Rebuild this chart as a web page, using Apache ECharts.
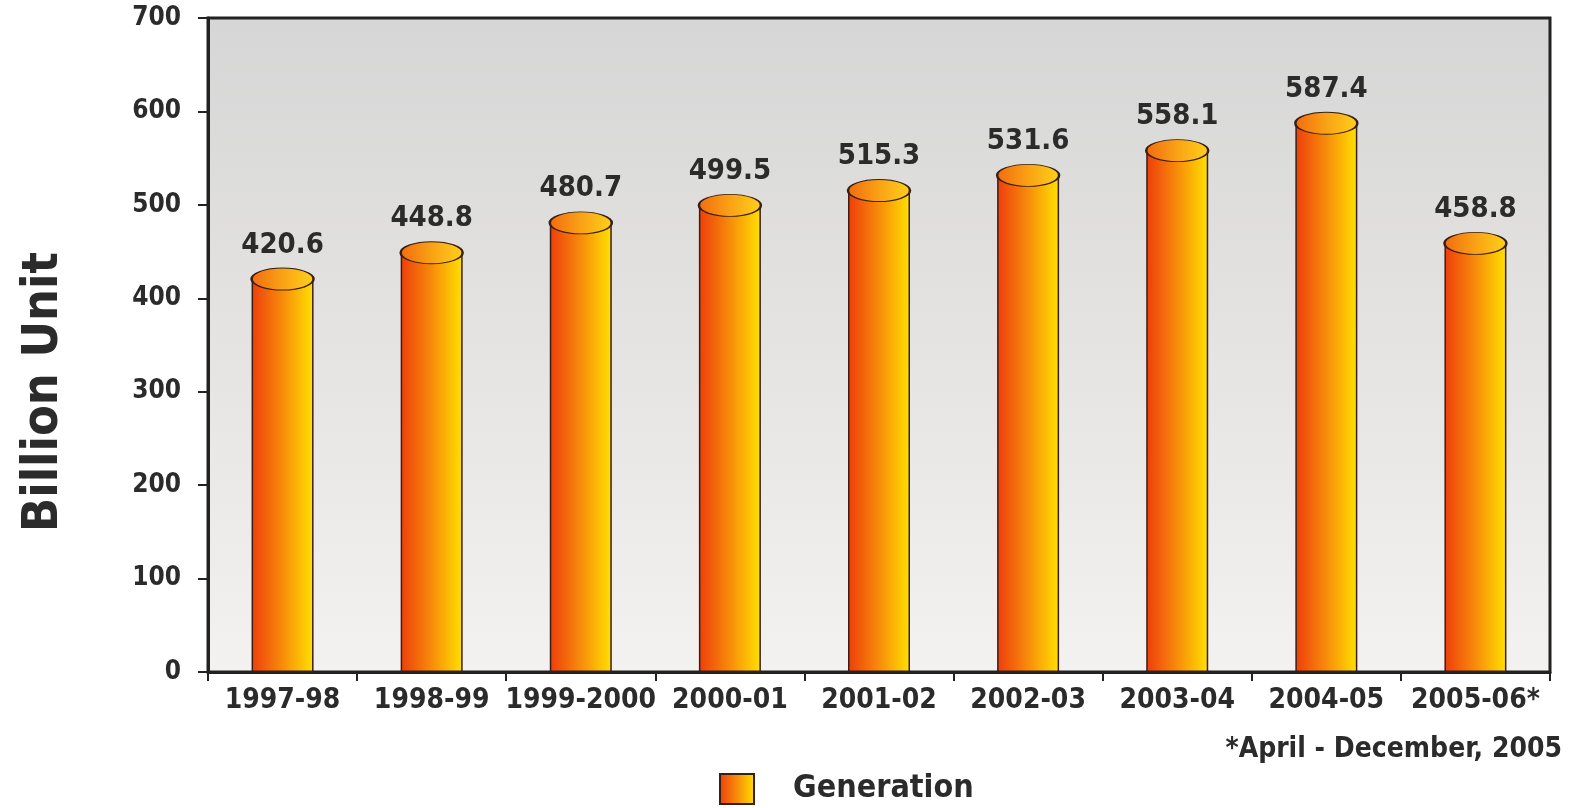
<!DOCTYPE html>
<html>
<head>
<meta charset="utf-8">
<script src="https://cdn.jsdelivr.net/npm/echarts@6/dist/echarts.min.js"></script>
<style>
  html, body { margin: 0; padding: 0; background: #fff; }
  #chart { width: 1574px; height: 808px; }
</style>
</head>
<body>
<div id="chart"></div>
<script>
let years = ['1997-98', '1998-99', '1999-2000', '2000-01', '2001-02', '2002-03', '2003-04', '2004-05', '2005-06*'];
let generation = [420.6, 448.8, 480.7, 499.5, 515.3, 531.6, 558.1, 587.4, 458.8];
let yTicks = [0, 100, 200, 300, 400, 500, 600, 700];

let fontFam = '"Liberation Sans Narrow", "DejaVu Sans Condensed", "Liberation Sans", sans-serif';
let dark = '#2b2b2b';

function sideGradient(c1, c2, c3) {
    return new echarts.graphic.LinearGradient(0, 0, 1, 0, [
        {offset: 0, color: c1},
        {offset: 0.5, color: c2},
        {offset: 1, color: c3}
    ]);
}

let chart = echarts.init(document.getElementById('chart'));
chart.setOption({
    animation: false,
    backgroundColor: '#ffffff',
    grid: {
        left: 208,
        right: 24,
        top: 18,
        bottom: 136,
        show: true,
        borderColor: '#222',
        borderWidth: 3,
        backgroundColor: new echarts.graphic.LinearGradient(0, 0, 0, 1, [
            {offset: 0, color: '#d6d6d6'},
            {offset: 0.55, color: '#e6e5e3'},
            {offset: 1, color: '#f4f2f0'}
        ])
    },
    legend: {
        data: ['Generation'],
        left: 714,
        top: 768,
        icon: 'rect',
        itemWidth: 34,
        itemHeight: 30,
        textStyle: {
            fontFamily: fontFam,
            fontSize: 32,
            fontWeight: 'bold',
            color: dark,
            padding: [0, 0, 0, 34]
        }
    },
    xAxis: {
        type: 'category',
        data: years,
        axisLine: {lineStyle: {color: '#222', width: 3}},
        axisTick: {show: true, length: 9, lineStyle: {color: '#222', width: 2}},
        axisLabel: {
            interval: 0,
            margin: 15,
            fontFamily: fontFam,
            fontSize: 28,
            fontWeight: 'bold',
            color: dark
        }
    },
    yAxis: {
        type: 'value',
        min: 0,
        max: 700,
        interval: 100,
        axisLine: {show: true, lineStyle: {color: '#222', width: 3}},
        axisTick: {show: true, length: 10, lineStyle: {color: '#222', width: 2}},
        splitLine: {show: false},
        axisLabel: {
            margin: 27,
            fontFamily: fontFam,
            fontSize: 26,
            fontWeight: 'bold',
            color: dark,
            formatter: function(v) {
                return yTicks.indexOf(v) >= 0 ? String(v) : '';
            }
        }
    },
    series: [
        {
            name: 'Generation',
            type: 'bar',
            barWidth: 62,
            data: generation,
            itemStyle: {
                color: sideGradient('#ee3d0c', '#f78c0a', '#ffe100'),
                borderColor: '#3a1e12',
                borderWidth: 1.5
            },
            z: 2
        },
        {
            name: 'top',
            type: 'scatter',
            symbol: 'circle',
            symbolSize: [62, 22],
            data: generation,
            itemStyle: {
                color: sideGradient('#f26a10', '#f9a215', '#ffd21a'),
                borderColor: '#3a1e12',
                borderWidth: 1.5,
                opacity: 1
            },
            label: {
                show: true,
                position: 'top',
                distance: 8,
                fontFamily: fontFam,
                fontSize: 29,
                fontWeight: 'bold',
                color: dark,
                formatter: function(p) { return p.value.toFixed(1); }
            },
            z: 3
        }
    ],
    graphic: [
        {
            type: 'text',
            x: 44,
            y: 392,
            rotation: Math.PI / 2,
            style: {
                text: 'Billion Unit',
                fontFamily: fontFam,
                fontSize: 50,
                fontWeight: 'bold',
                fill: dark,
                align: 'center',
                verticalAlign: 'middle'
            }
        },
        {
            type: 'text',
            right: 12,
            top: 736,
            style: {
                text: '*April - December, 2005',
                fontFamily: fontFam,
                fontSize: 28,
                fontWeight: 'bold',
                fill: dark
            }
        }
    ]
});
</script>
</body>
</html>
